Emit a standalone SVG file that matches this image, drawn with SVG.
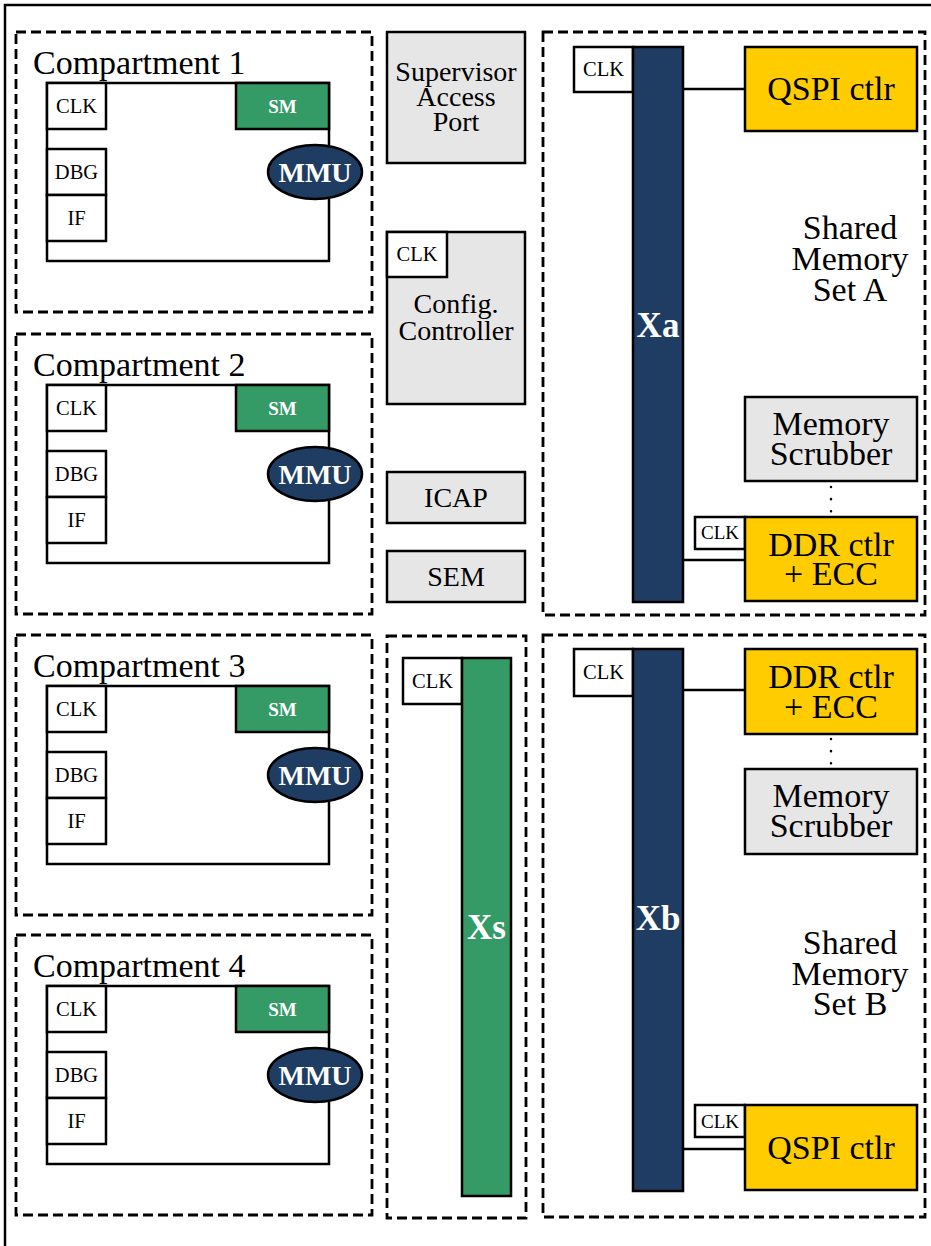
<svg xmlns="http://www.w3.org/2000/svg" width="931" height="1246" viewBox="0 0 931 1246">
<defs>
<style>
.frame{fill:none;stroke:#000;stroke-width:2.5}
.dash{fill:none;stroke:#000;stroke-width:2.8;stroke-dasharray:10,5}
.box{fill:#fff;stroke:#000;stroke-width:2.5}
.gray{fill:#e6e6e6;stroke:#000;stroke-width:2.5}
.yel{fill:#ffcc00;stroke:#000;stroke-width:2.5}
.navy{fill:#1f3d63;stroke:#000;stroke-width:2.5}
.green{fill:#349a66;stroke:#000;stroke-width:2.5}
.wire{fill:none;stroke:#000;stroke-width:2.5}
.dots{fill:none;stroke:#000;stroke-width:2.5;stroke-dasharray:0.1,12;stroke-linecap:round}
text{font-family:"Liberation Serif","Times New Roman",serif;text-anchor:middle;fill:#000}
.t32{font-size:34px}
.t28{font-size:28px}
.t19{font-size:20.5px}
.t18{font-size:19px}
.title{font-size:34px;text-anchor:start}
.sm{font-size:19px;font-weight:bold;fill:#fff}
.mmu{font-size:28px;font-weight:bold;fill:#fff}
.bar{font-size:35px;font-weight:bold;fill:#fff}
</style>
<g id="compartment-template">
<rect class="dash" x="16" y="32" width="356" height="280"/>
<rect class="box" x="47" y="83" width="282" height="178"/>
<rect class="box" x="47" y="83" width="59" height="46"/>
<text class="t19" x="76.5" y="113">CLK</text>
<rect class="box" x="47" y="149" width="59" height="46"/>
<text class="t19" x="76.5" y="179">DBG</text>
<rect class="box" x="47" y="195" width="59" height="46"/>
<text class="t19" x="76.5" y="225">IF</text>
<rect class="green" x="236" y="83" width="93" height="46"/>
<text class="sm" x="282.5" y="113">SM</text>
<ellipse class="navy" cx="315" cy="172" rx="47" ry="27"/>
<text class="mmu" x="315" y="182">MMU</text>
</g>
</defs>
<rect class="frame" x="5" y="5" width="1000" height="1300"/>

<g id="compartment1">
<use href="#compartment-template"/>
<text class="title" x="33" y="74">Compartment 1</text>
</g>
<g id="compartment2" transform="translate(0,302)">
<use href="#compartment-template"/>
<text class="title" x="33" y="74">Compartment 2</text>
</g>
<g id="compartment3" transform="translate(0,603)">
<use href="#compartment-template"/>
<text class="title" x="33" y="74">Compartment 3</text>
</g>
<g id="compartment4" transform="translate(0,903)">
<use href="#compartment-template"/>
<text class="title" x="33" y="74">Compartment 4</text>
</g>

<g id="supervisor-access-port">
<rect class="gray" x="387" y="32" width="138" height="131"/>
<text class="t28" x="456" y="81">Supervisor</text>
<text class="t28" x="456" y="106">Access</text>
<text class="t28" x="456" y="131">Port</text>
</g>
<g id="config-controller">
<rect class="gray" x="387" y="232" width="138" height="172"/>
<rect class="box" x="387" y="232" width="60" height="45"/>
<text class="t19" x="417" y="261">CLK</text>
<text class="t28" x="456" y="313">Config.</text>
<text class="t28" x="456" y="340">Controller</text>
</g>
<g id="icap">
<rect class="gray" x="387" y="472" width="138" height="51"/>
<text class="t28" x="456" y="507">ICAP</text>
</g>
<g id="sem">
<rect class="gray" x="387" y="551" width="138" height="51"/>
<text class="t28" x="456" y="586">SEM</text>
</g>
<g id="xs">
<rect class="dash" x="387" y="636" width="139" height="582"/>
<rect class="box" x="403" y="658" width="59" height="46"/>
<text class="t19" x="432.5" y="688">CLK</text>
<rect class="green" x="462" y="658" width="49" height="538"/>
<text class="bar" x="486.5" y="939">Xs</text>
</g>

<g id="shared-memory-a">
<rect class="dash" x="543" y="32" width="382" height="583"/>
<text class="t32" x="850" y="239">Shared</text>
<text class="t32" x="850" y="270">Memory</text>
<text class="t32" x="850" y="301">Set A</text>
</g>
<g id="xa">
<rect class="box" x="574" y="47" width="59" height="45"/>
<text class="t19" x="603.5" y="76">CLK</text>
<rect class="navy" x="633" y="47" width="50" height="555"/>
<text class="bar" x="658" y="337">Xa</text>
</g>
<g id="qspi-a">
<rect class="yel" x="745" y="47" width="172" height="84"/>
<text class="t32" x="831" y="100">QSPI ctlr</text>
</g>
<g id="scrubber-a">
<rect class="gray" x="745" y="397" width="172" height="84"/>
<text class="t32" x="831" y="435">Memory</text>
<text class="t32" x="831" y="465">Scrubber</text>
</g>
<g id="ddr-a">
<rect class="box" x="695" y="517" width="50" height="32"/>
<text class="t18" x="720" y="539">CLK</text>
<rect class="yel" x="745" y="517" width="172" height="84"/>
<text class="t32" x="831" y="556">DDR ctlr</text>
<text class="t32" x="831" y="585">+ ECC</text>
</g>

<g id="shared-memory-b">
<rect class="dash" x="543" y="635" width="382" height="582"/>
<text class="t32" x="850" y="954">Shared</text>
<text class="t32" x="850" y="985">Memory</text>
<text class="t32" x="850" y="1015">Set B</text>
</g>
<g id="xb">
<rect class="box" x="574" y="649" width="59" height="47"/>
<text class="t19" x="603.5" y="679">CLK</text>
<rect class="navy" x="633" y="649" width="50" height="542"/>
<text class="bar" x="658" y="930">Xb</text>
</g>
<g id="ddr-b">
<rect class="yel" x="745" y="649" width="172" height="85"/>
<text class="t32" x="831" y="688">DDR ctlr</text>
<text class="t32" x="831" y="718">+ ECC</text>
</g>
<g id="scrubber-b">
<rect class="gray" x="745" y="769" width="172" height="85"/>
<text class="t32" x="831" y="807">Memory</text>
<text class="t32" x="831" y="837">Scrubber</text>
</g>
<g id="qspi-b">
<rect class="box" x="695" y="1105" width="50" height="32"/>
<text class="t18" x="720" y="1128">CLK</text>
<rect class="yel" x="745" y="1105" width="172" height="85"/>
<text class="t32" x="831" y="1159">QSPI ctlr</text>
</g>

<g id="connectors">
<line class="wire" x1="683" y1="89" x2="745" y2="89"/>
<line class="wire" x1="683" y1="560" x2="745" y2="560"/>
<line class="wire" x1="683" y1="690" x2="745" y2="690"/>
<line class="wire" x1="683" y1="1149" x2="745" y2="1149"/>
<line class="dots" x1="831" y1="487" x2="831" y2="512"/>
<line class="dots" x1="831" y1="739" x2="831" y2="764"/>
</g>
</svg>
